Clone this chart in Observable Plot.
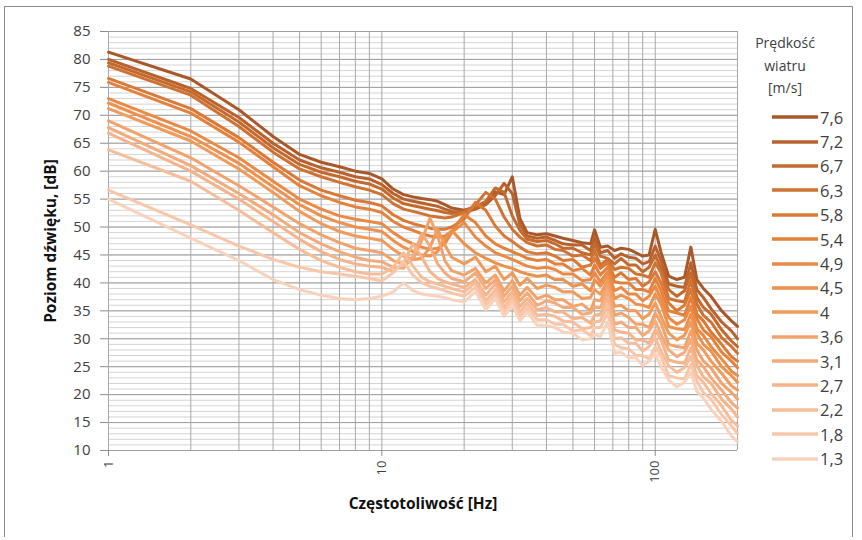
<!DOCTYPE html>
<html>
<head>
<meta charset="utf-8">
<script src="https://cdn.jsdelivr.net/npm/d3@7"></script>
<script src="https://cdn.jsdelivr.net/npm/@observablehq/plot@0.6"></script>
<style>
  html, body { margin: 0; padding: 0; background: #fff; }
  #wrap { position: relative; width: 862px; height: 540px; overflow: hidden; font-family: "Open Sans", sans-serif; }
  #frame { position: absolute; left: 4px; top: 6px; width: 849px; height: 531px; border: 1.5px solid #8c8c8c; border-bottom: none; box-sizing: border-box; pointer-events: none; }
  #legend { position: absolute; left: 744px; top: 32px; width: 118px; color: #404040; }
  #legend .title { width: 82px; text-align: center; font-size: 14px; line-height: 22.5px; }
  #legend .entries { position: absolute; top: 73px; left: 28px; }
  #legend .row { height: 24.4px; display: flex; align-items: center; font-size: 16.5px; }
  #legend .row svg { margin-right: 2px; }
  svg [aria-label="y-axis label"], svg [aria-label="x-axis label"] { font-weight: bold; fill: #111; font-size: 15.5px; }
  svg [aria-label="y-axis tick"], svg [aria-label="x-axis tick"] { stroke: #8c8c8c; }
</style>
</head>
<body>
<div id="wrap">
  <div id="chart"></div>
  <div id="legend"></div>
  <div id="frame"></div>
</div>
<script>
// ---- data ----
const speeds = ["7,6","7,2","6,7","6,3","5,8","5,4","4,9","4,5","4","3,6","3,1","2,7","2,2","1,8","1,3"];
const colors = ["#a9582a","#b9622b","#c56a2e","#cf7232","#db7a36","#e4823c","#ea8a44","#ee914c",
                "#f09a5c","#f2a36c","#f3ab7b","#f5b48a","#f6bd9a","#f8c7aa","#f9d2bb"];
const freqs = [1,2,3,4,5,6,7,8,9,10,
  11,12,13,14,15,16,17,18,
  20,22,24,26,28,30,32,34,37,40,
  43,46,50,54,58,60,63,67,71,75,
  80,85,90,95,100,105,112,120,128,135,
  142,150,160,175,190,200];

const s76 = [81.3,76.5,71.0,66.2,63.0,61.6,60.8,60.0,59.6,58.6,
  56.8,55.8,55.4,55.1,54.9,54.6,54.0,53.4,
  53.0,53.6,54.4,56.3,55.8,59.0,51.5,49.0,48.6,48.8,
  48.4,48.0,47.6,47.2,47.0,49.5,46.4,46.6,45.8,46.2,
  46.0,45.4,44.8,45.0,49.6,45.5,41.2,40.6,41.0,46.4,
  40.6,39.0,37.6,35.0,33.2,32.2];
const s72 = [80.0,74.8,69.6,65.0,62.0,60.6,59.8,59.0,58.6,57.6,
  56.0,55.0,54.6,54.3,54.0,53.7,53.2,52.8,
  52.6,53.2,54.0,55.6,57.8,56.0,50.4,48.4,48.0,48.2,
  47.6,47.0,46.8,46.8,45.8,48.2,45.4,45.8,44.4,45.2,
  44.6,44.4,43.4,43.8,46.6,44.0,39.8,39.4,39.2,43.6,
  38.8,37.4,35.4,33.0,31.4,30.0];
const s67 = [79.4,74.2,68.8,64.2,61.2,59.8,59.0,58.2,57.7,56.8,
  55.2,54.2,53.8,53.5,53.2,52.9,52.6,52.4,
  52.8,53.6,54.6,57.0,56.2,52.0,49.4,47.8,47.4,47.6,
  47.0,46.2,46.2,45.4,45.0,47.0,44.8,44.4,43.4,44.4,
  43.2,43.2,42.0,42.8,45.0,42.6,38.8,37.6,38.6,41.8,
  37.4,35.6,34.4,31.6,29.6,28.6];
const s63 = [78.8,73.6,68.0,63.4,60.4,59.0,58.0,57.2,56.6,55.8,
  54.2,53.2,52.8,52.4,52.0,51.8,51.6,51.8,
  52.6,54.0,56.2,55.0,51.8,49.6,48.2,47.2,46.6,46.8,
  46.0,45.8,44.8,45.0,44.0,45.8,43.2,44.2,42.4,42.8,
  42.6,41.6,41.4,41.0,43.6,41.8,37.2,36.8,36.6,40.4,
  36.2,34.2,33.0,30.2,28.6,27.4];
const s58 = [76.6,71.2,66.0,61.6,58.4,56.6,55.6,54.8,54.4,53.8,
  52.2,51.2,50.6,50.2,49.8,49.6,49.6,50.0,
  51.4,54.4,53.0,50.2,48.4,47.4,46.4,45.6,45.2,45.4,
  44.8,44.0,44.2,42.8,43.2,44.4,42.6,43.6,41.0,41.8,
  40.6,40.8,39.4,40.2,42.0,40.0,36.4,35.0,36.0,38.8,
  34.4,33.2,31.2,29.0,26.8,26.0];
const s54 = [75.9,70.4,65.2,60.8,57.4,55.6,54.4,53.6,53.2,52.6,
  51.0,50.0,49.4,48.8,48.4,48.2,48.4,49.2,
  52.2,50.8,48.4,47.0,46.2,45.6,45.0,44.4,44.0,44.2,
  43.4,43.4,42.2,42.6,41.4,43.2,41.4,42.8,40.2,40.0,
  40.0,38.8,38.8,38.4,40.8,38.6,35.0,34.6,34.2,37.4,
  33.6,31.6,30.4,27.6,26.0,24.8];
const s49 = [73.0,67.2,62.4,58.2,55.0,53.2,52.0,51.4,51.0,50.6,
  49.0,47.8,47.0,46.4,46.0,46.2,47.0,49.0,
  50.8,48.2,46.6,45.4,44.8,44.2,43.6,43.0,42.6,42.8,
  42.4,41.6,41.6,40.4,40.6,41.8,40.2,42.0,38.6,39.2,
  38.0,38.0,36.8,37.6,39.4,37.2,33.8,32.6,33.4,35.8,
  31.8,30.6,28.6,26.4,24.2,23.4];
const s45 = [72.2,66.2,61.4,57.2,54.0,52.0,50.8,50.0,49.6,49.2,
  47.6,46.4,45.6,45.0,44.8,45.6,48.0,49.4,
  47.0,45.4,44.4,43.6,43.0,42.6,42.0,41.6,41.2,41.4,
  40.6,40.6,39.4,39.8,38.6,40.6,39.4,41.2,37.2,37.8,
  37.2,36.2,36.0,35.6,38.0,36.2,32.2,31.8,31.6,34.4,
  31.0,29.0,27.8,25.0,23.4,22.2];
const s40 = [71.2,65.4,60.4,56.2,52.8,50.6,49.2,48.4,48.0,47.6,
  46.0,44.8,44.2,44.4,46.4,49.6,46.8,44.6,
  43.4,44.6,42.0,43.0,40.6,41.8,39.6,40.8,39.0,39.6,
  39.2,38.4,38.4,37.2,37.4,38.8,38.0,40.4,35.8,36.0,
  35.0,35.0,33.6,34.4,36.4,34.0,31.0,29.8,30.6,33.0,
  29.2,28.0,26.0,23.8,21.6,20.8];
const s36 = [69.0,62.4,57.4,53.6,50.6,48.6,47.2,46.2,45.8,45.4,
  44.0,43.4,44.2,47.6,51.6,48.4,44.0,42.2,
  41.4,42.6,40.0,41.4,38.6,40.4,37.8,39.2,37.2,37.8,
  37.0,37.0,35.8,36.2,35.0,37.0,36.8,39.6,34.2,34.6,
  33.8,32.6,32.6,32.0,34.6,32.8,29.0,28.6,28.4,31.4,
  28.0,26.0,24.8,22.0,20.4,19.2];
const s31 = [67.8,61.0,56.0,52.2,49.0,47.0,45.6,44.6,44.0,43.8,
  42.8,42.6,44.8,48.8,46.6,43.4,41.8,40.8,
  40.2,41.8,39.0,40.6,37.6,39.4,36.8,38.2,36.0,36.8,
  36.4,35.6,35.6,34.4,34.6,35.6,35.6,38.6,32.6,33.0,
  32.0,32.0,30.6,31.4,33.2,30.8,28.0,26.8,27.6,29.8,
  26.2,25.0,23.0,20.8,18.6,17.6];
const s27 = [66.8,60.0,55.0,51.0,47.8,45.6,44.2,43.4,43.0,42.8,
  42.0,43.6,47.0,44.6,42.0,40.8,40.2,39.8,
  39.2,40.6,37.8,39.8,36.6,38.4,35.8,37.2,35.2,35.6,
  34.8,34.8,33.6,33.8,32.8,34.2,34.4,37.4,31.6,31.2,
  31.0,29.8,29.8,29.2,31.6,29.8,26.2,25.8,25.6,28.4,
  25.2,23.2,22.0,19.2,17.4,16.0];
const s22 = [63.8,58.2,53.0,49.0,46.0,44.0,42.8,42.0,41.6,41.6,
  42.8,45.4,43.0,41.0,40.2,39.8,39.4,39.0,
  38.4,40.0,36.8,38.8,35.6,37.6,34.8,36.4,34.2,34.4,
  34.0,33.2,33.0,31.8,32.0,33.0,33.2,36.0,30.0,30.2,
  29.2,29.2,27.8,28.6,30.2,27.8,25.2,24.0,24.8,26.8,
  23.4,22.2,20.2,18.0,15.4,14.4];
const s18 = [56.6,50.4,46.6,44.2,42.8,42.0,41.6,41.2,40.8,40.4,
  41.8,43.8,41.4,40.0,39.4,39.0,38.6,38.2,
  37.6,39.2,36.0,38.0,34.8,36.8,34.0,35.6,33.4,33.4,
  32.6,32.6,31.4,31.6,30.6,32.0,32.0,34.6,29.0,28.4,
  28.2,27.0,27.0,26.4,28.6,26.8,23.4,23.0,22.8,25.4,
  22.4,20.4,19.2,16.4,14.4,13.0];
const s13 = [55.0,48.0,44.0,40.6,38.8,37.8,37.2,37.0,37.2,37.6,
  38.4,40.0,38.6,38.0,37.8,37.6,37.4,37.0,
  36.6,38.4,35.2,37.2,34.0,36.0,33.2,34.8,32.4,32.4,
  32.0,31.2,31.0,29.8,30.0,30.8,30.4,33.0,27.4,27.6,
  26.6,26.6,25.2,26.0,27.4,25.0,22.6,21.4,22.2,24.0,
  20.6,19.4,17.4,15.2,12.6,11.6];

const seriesValues = [s76,s72,s67,s63,s58,s54,s49,s45,s40,s36,s31,s27,s22,s18,s13];

const yTicks = [10,15,20,25,30,35,40,45,50,55,60,65,70,75,80,85];
const yMinor = d3.range(10, 86, 1);
const xTicks = [1, 10, 100];
const xGrid = [1,2,3,4,5,6,7,8,9,10,20,30,40,50,60,70,80,90,100,200];
const xTitle = "Częstotoliwość [Hz]";
const yTitle = "Poziom dźwięku, [dB]";
const legendTitle = ["Prędkość", "wiatru", "[m/s]"];

// ---- table ----
const table = speeds.flatMap((s, i) => freqs.map((f, j) => ({speed: s, f, db: seriesValues[i][j]})));

const chart = Plot.plot({
  width: 862,
  height: 540,
  marginLeft: 108,
  marginRight: 125,
  marginTop: 31,
  marginBottom: 90,
  style: {fontFamily: "'Open Sans', sans-serif", fontSize: "15px", color: "#404040", background: "transparent", overflow: "visible"},
  x: {type: "log", domain: [1, 200]},
  y: {domain: [10, 85]},
  color: {domain: speeds, range: colors},
  marks: [
    Plot.ruleY(yMinor, {stroke: "#d4d4d4", strokeWidth: 1}),
    Plot.ruleY(yTicks, {stroke: "#9e9e9e", strokeWidth: 1}),
    Plot.ruleX(xGrid, {stroke: "#a8a8a8", strokeWidth: 1}),
    Plot.axisY({ticks: yTicks, tickSize: 8, tickPadding: 10, label: yTitle, labelAnchor: "center", labelArrow: "none", labelOffset: 64}),
    Plot.axisX({ticks: xTicks, tickFormat: d => String(d), tickSize: 6, tickPadding: 4, tickRotate: -90, fontSize: 13, label: xTitle, labelAnchor: "center", labelArrow: "none", labelOffset: 58}),
    Plot.line(table, {x: "f", y: "db", z: "speed", stroke: "speed", strokeWidth: 3, strokeLinejoin: "round"})
  ]
});
document.getElementById("chart").appendChild(chart);

// ---- legend ----
const legend = d3.select("#legend");
legend.append("div").attr("class", "title").html(legendTitle.join("<br>"));
const entries = legend.append("div").attr("class", "entries");
speeds.forEach((s, i) => {
  const row = entries.append("div").attr("class", "row");
  const sv = row.append("svg").attr("width", 46).attr("height", 8);
  sv.append("line").attr("x1", 0).attr("x2", 46).attr("y1", 4).attr("y2", 4)
    .attr("stroke", colors[i]).attr("stroke-width", 3.5);
  row.append("span").text(s);
});
</script>
</body>
</html>
